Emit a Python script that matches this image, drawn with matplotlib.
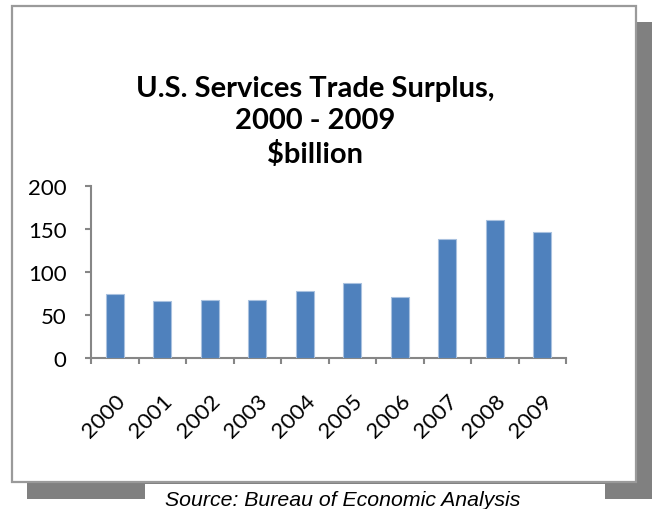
import numpy as np
import matplotlib
matplotlib.use("Agg")
import matplotlib.pyplot as plt
from matplotlib.patches import Rectangle

years = ["2000", "2001", "2002", "2003", "2004", "2005", "2006", "2007", "2008", "2009"]
surplus = [75, 66, 68, 68, 77.5, 87, 70.5, 138, 161, 147]
y_ticks = [0, 50, 100, 150, 200]

W, H = 652, 510
plt.rcParams["font.family"] = ["Lato", "DejaVu Sans"]

fig = plt.figure(figsize=(W / 100, H / 100), dpi=100)


def px_rect(x0, y0, x1, y1, **kw):
    # pixel coords, origin top-left
    r = Rectangle((x0 / W, 1 - y1 / H), (x1 - x0) / W, (y1 - y0) / H,
                  transform=fig.transFigure, **kw)
    fig.patches.append(r)


# drop shadow, white box, gap behind the source line
px_rect(27, 23, 652, 500, facecolor="#808080", edgecolor="none", zorder=0)
px_rect(12, 7, 636, 483, facecolor="white", edgecolor="#9a9a9a", lw=1.6, zorder=1)
px_rect(145, 484.5, 605, 510, facecolor="white", edgecolor="none", zorder=1)

ax = fig.add_axes([91 / W, 1 - 359 / H, 475 / W, 172 / H])
ax.set_zorder(5)
ax.set_facecolor("none")
x = np.arange(len(years))
ax.bar(x, surplus, width=0.38, color="#4F81BD", edgecolor="#a9c1df", linewidth=0.8, zorder=3)

ax.set_xlim(-0.5, len(years) - 0.5)
ax.set_ylim(0, 200)
ax.set_yticks(y_ticks)
ax.set_xticks(np.arange(len(years) + 1) - 0.5)
ax.set_xticklabels([])
ax.set_xticks(x, minor=True)
ax.set_xticklabels(years, minor=True, rotation=45, ha="right", rotation_mode="anchor",
                   fontsize=16)
ax.tick_params(axis="x", which="minor", length=0, pad=23)
ax.tick_params(axis="x", which="major", length=4.5, width=1.5, color="#868686", direction="out")
ax.tick_params(axis="y", length=4.5, width=1.5, color="#868686", direction="out",
               labelsize=16, pad=13)

for s in ["top", "right"]:
    ax.spines[s].set_visible(False)
for s in ["left", "bottom"]:
    ax.spines[s].set_color("#868686")
    ax.spines[s].set_linewidth(1.5)

fig.text(315 / W, 1 - 122 / H, "U.S. Services Trade Surplus,\n2000 - 2009\n$billion",
         ha="center", va="center", fontsize=21, fontweight="bold", linespacing=1.3,
         zorder=5)

fig.text(343 / W, 1 - 501 / H, "Source: Bureau of Economic Analysis",
         ha="center", va="center", fontsize=15.3, style="italic",
         family=["Liberation Sans", "DejaVu Sans"], zorder=5)

fig.savefig("out.png", dpi=100)
